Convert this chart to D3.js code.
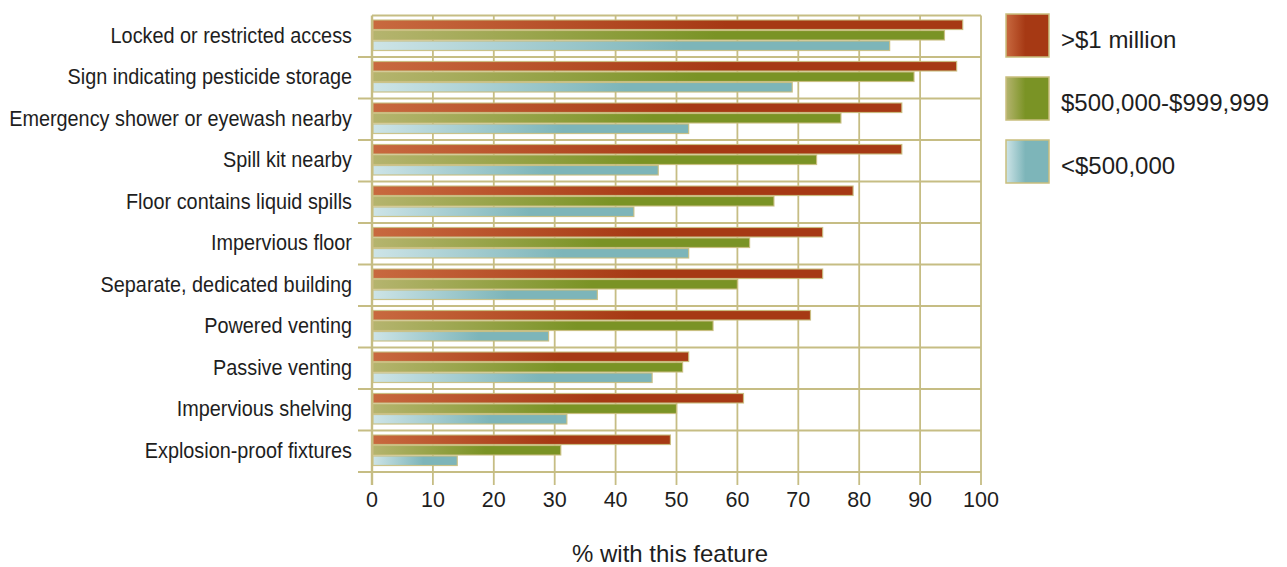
<!DOCTYPE html>
<html><head><meta charset="utf-8">
<script src="https://cdn.jsdelivr.net/npm/d3@7"></script>
<style>
html,body{margin:0;padding:0;background:#fff;}
text{font-family:"Liberation Sans",Arial,sans-serif;fill:#1e1e1e;}
</style></head>
<body>
<svg id="chart" width="1287" height="567"></svg>
<script>
const categories = ["Locked or restricted access","Sign indicating pesticide storage","Emergency shower or eyewash nearby","Spill kit nearby","Floor contains liquid spills","Impervious floor","Separate, dedicated building","Powered venting","Passive venting","Impervious shelving","Explosion-proof fixtures"];
const seriesNames = [">$1 million","$500,000-$999,999","<$500,000"];
const over1M   = [97,96,87,87,79,74,74,72,52,61,49];
const mid500k  = [94,89,77,73,66,62,60,56,51,50,31];
const under500k= [85,69,52,47,43,52,37,29,46,32,14];
const xTicks = [0,10,20,30,40,50,60,70,80,90,100];
const xTitle = "% with this feature";

(function(){
const series = [over1M, mid500k, under500k];
const colors = [["#c8693f","#a63914"],["#b5b46e","#7a9325"],["#cde4e7","#7db5b9"]];
const gridColor = "#c6bd84";
const borderColor = "#c9be7e";

const svg = d3.select("#chart");
const defs = svg.append("defs");
colors.forEach((c,i)=>{
  const g = defs.append("linearGradient").attr("id","g"+i).attr("x1","0").attr("x2","1").attr("y1","0").attr("y2","0");
  g.append("stop").attr("offset","0").attr("stop-color",c[0]);
  g.append("stop").attr("offset","0.6").attr("stop-color",c[1]);
  g.append("stop").attr("offset","1").attr("stop-color",c[1]);
  const s = defs.append("linearGradient").attr("id","s"+i).attr("x1","0").attr("x2","1").attr("y1","0").attr("y2","0");
  s.append("stop").attr("offset","0").attr("stop-color",c[0]);
  s.append("stop").attr("offset","0.45").attr("stop-color",c[1]);
  s.append("stop").attr("offset","1").attr("stop-color",c[1]);
});

const pL = 372, pR = 981, pT = 15.5, pB = 472;
const x = d3.scaleLinear().domain([0,100]).range([pL,pR]);
const y = d3.scaleBand().domain(categories).range([pT,pB]).paddingInner(0).paddingOuter(0);
const yInner = d3.scaleBand().domain([0,1,2]).range([4.5, y.bandwidth()-5.5]).padding(0);

svg.append("g").selectAll("line").data(xTicks).join("line")
  .attr("x1",d=>x(d)).attr("x2",d=>x(d)).attr("y1",pT).attr("y2",485)
  .attr("stroke",gridColor).attr("stroke-width",d=>d===0?2.4:1.8);
const seps = categories.map(c=>y(c)).concat([pB]);
svg.append("g").selectAll("line").data(seps).join("line")
  .attr("x1",(d,i)=>i===0?pL:358).attr("x2",pR).attr("y1",d=>d).attr("y2",d=>d)
  .attr("stroke",gridColor).attr("stroke-width",1.9);

series.forEach((vals,si)=>{
  svg.append("g").selectAll("rect").data(vals).join("rect")
    .attr("x",x(0)+1).attr("y",(d,i)=>y(categories[i])+yInner(si))
    .attr("width",d=>x(d)-x(0)-1).attr("height",yInner.bandwidth()-1)
    .attr("fill","url(#g"+si+")").attr("stroke",borderColor).attr("stroke-width",1.2).attr("stroke-opacity",0.9);
});

function condense(sel, ax, refNode, targetW){
  const w = refNode.getComputedTextLength();
  const sx = Math.min(1, targetW / w);
  sel.attr("transform",`translate(${ax},0) scale(${sx},1) translate(${-ax},0)`);
}

const labG = svg.append("g");
const labs = labG.selectAll("text").data(categories).join("text")
  .attr("x",352).attr("y",d=>y(d)+y.bandwidth()/2+6.5)
  .attr("text-anchor","end")
  .style("font-size","22.5px").text(d=>d);
condense(labG, 352, labs.nodes()[2], 343);

svg.append("g").selectAll("text").data(xTicks).join("text")
  .attr("x",d=>x(d)).attr("y",507).attr("text-anchor","middle")
  .style("font-size","21.5px").text(d=>d);

const tG = svg.append("g");
const tt = tG.append("text").attr("x",670).attr("y",562).attr("text-anchor","middle")
  .style("font-size","24px").text(xTitle);
condense(tG, 670, tt.node(), 204);

const lg = svg.append("g").selectAll("g").data(seriesNames).join("g")
  .attr("transform",(d,i)=>`translate(1006,${14+i*63})`);
lg.append("rect").attr("width",43).attr("height",43).attr("fill",(d,i)=>"url(#s"+i+")")
  .attr("stroke",borderColor).attr("stroke-width",1.5);
const ltG = svg.append("g");
const lts = ltG.selectAll("text").data(seriesNames).join("text")
  .attr("x",1061).attr("y",(d,i)=>14+i*63+34)
  .style("font-size","24px").text(d=>d);
condense(ltG, 1061, lts.nodes()[1], 217);
})();
</script>
</body></html>
